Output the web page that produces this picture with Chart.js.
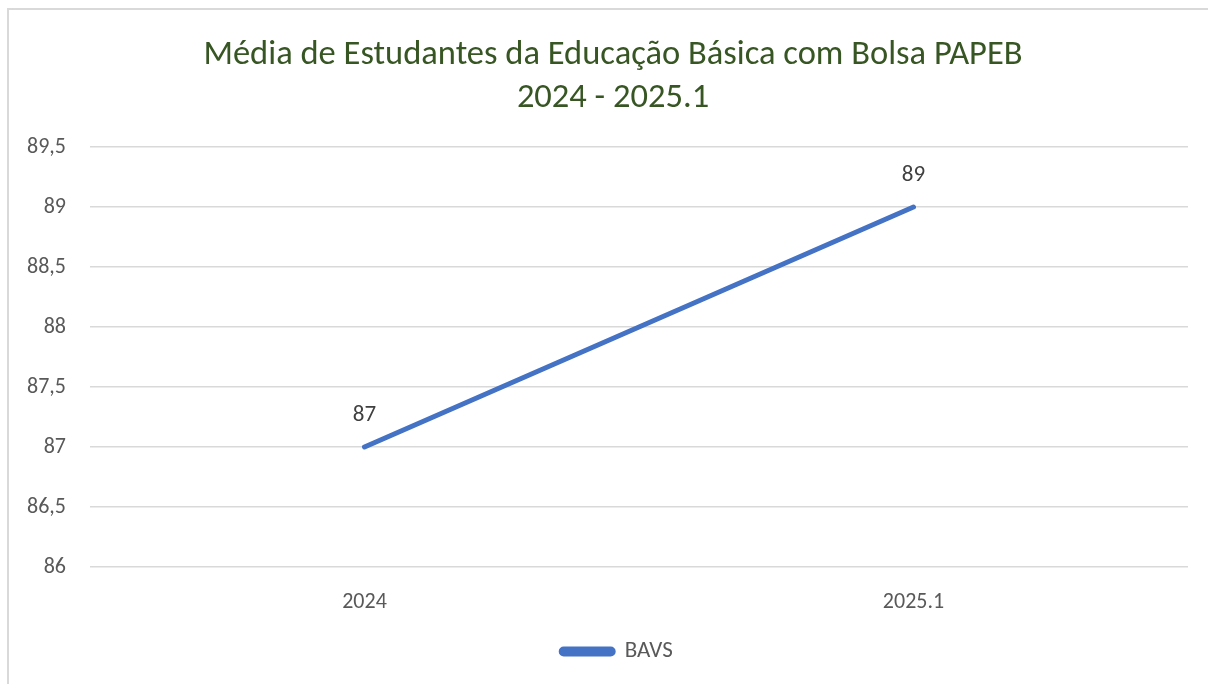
<!DOCTYPE html>
<html>
<head>
<meta charset="utf-8">
<script src="https://cdn.jsdelivr.net/npm/chart.js@4.4.0/dist/chart.umd.min.js"></script>
<style>
  html, body { margin: 0; padding: 0; background: #fff; overflow: hidden; }
  #frame {
    position: absolute; left: 7px; top: 8px;
    width: 1300px; height: 800px;
    border-left: 2px solid #d9d9d9; border-top: 2px solid #d9d9d9;
  }
  #wrap { position: absolute; left: 0; top: 0; width: 1208px; height: 684px; }
</style>
</head>
<body>
<div id="frame"></div>
<div id="wrap"><canvas id="mediaChart"></canvas></div>
<script>
// Dados do gráfico
const categories = ['2024', '2025.1'];
const bavsValues = [87, 89];
const titleLines = ['Média de Estudantes da Educação Básica com Bolsa PAPEB', '2024 - 2025.1'];
const yMin = 86;
const yMax = 89.5;
const yStep = 0.5;

const fontFamily = 'Carlito, Calibri, Lato, sans-serif';

// rótulos de valor acima de cada ponto
const valueLabels = {
  id: 'valueLabels',
  afterDatasetsDraw(chart) {
    const ctx = chart.ctx;
    chart.data.datasets.forEach((ds, i) => {
      const meta = chart.getDatasetMeta(i);
      meta.data.forEach((pt, j) => {
        ctx.save();
        ctx.font = '23px ' + fontFamily;
        ctx.fillStyle = '#404040';
        ctx.textAlign = 'center';
        ctx.textBaseline = 'middle';
        ctx.fillText(String(ds.data[j]).replace('.', ','), pt.x, pt.y - 32);
        ctx.restore();
      });
    });
  }
};

// a moldura do Excel é mais larga que a imagem: título e legenda ficam um pouco à direita
const frameShift = {
  id: 'frameShift',
  afterLayout(chart) {
    const lg = chart.legend;
    if (lg) { lg.left += 23; lg.right += 23; }
    const tb = chart.titleBlock;
    if (tb) { tb.left += 19; tb.right += 19; }
  }
};

const canvas = document.getElementById('mediaChart');
new Chart(canvas.getContext('2d'), {
  type: 'line',
  data: {
    labels: categories,
    datasets: [{
      label: 'BAVS',
      data: bavsValues,
      borderColor: '#4472C4',
      backgroundColor: '#4472C4',
      borderWidth: 5,
      borderCapStyle: 'round',
      pointRadius: 0,
      pointHoverRadius: 0,
      tension: 0
    }]
  },
  options: {
    responsive: true,
    maintainAspectRatio: false,
    animation: false,
    layout: { padding: { left: 0, right: 20, top: 0, bottom: 11 } },
    plugins: {
      title: {
        display: true,
        text: titleLines,
        color: '#375623',
        font: { family: fontFamily, size: 34.5, weight: 'normal', lineHeight: '43px' },
        padding: { top: 34, bottom: 27 }
      },
      legend: {
        position: 'bottom',
        labels: {
          color: '#595959',
          font: { family: fontFamily, size: 23 },
          boxWidth: 52,
          boxHeight: 5,
          useBorderRadius: true,
          borderRadius: 2.5,
          padding: 8
        }
      },
      tooltip: { enabled: false }
    },
    scales: {
      x: {
        offset: true,
        grid: { display: false, drawTicks: false },
        border: { display: false },
        ticks: { color: '#595959', font: { family: fontFamily, size: 22 }, padding: 22 },
        afterFit: (scale) => { scale.height = 65; }
      },
      y: {
        min: yMin,
        max: yMax,
        grid: { color: '#d9d9d9', lineWidth: 1.5, drawTicks: false },
        border: { display: false },
        ticks: {
          stepSize: yStep,
          color: '#595959',
          font: { family: fontFamily, size: 22 },
          padding: 24,
          callback: (v) => String(v).replace('.', ',')
        },
        afterFit: (scale) => { scale.width = 90; }
      }
    }
  },
  plugins: [valueLabels, frameShift]
});
</script>
</body>
</html>
